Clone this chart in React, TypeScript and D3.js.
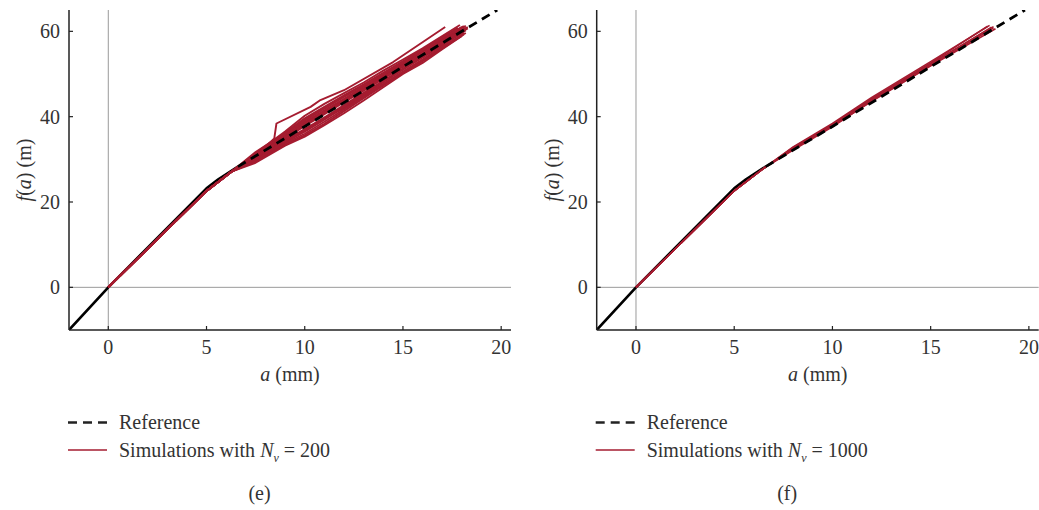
import React from "react";
import * as d3 from "d3";

type Pt = [number, number];

// ---------- data ----------
const xTicks = [0, 5, 10, 15, 20];
const yTicks = [0, 20, 40, 60];
const xDomain: [number, number] = [-2, 20.5];
const yDomain: [number, number] = [-10, 65];

// reference curve: solid (known) part and dashed continuation
const referenceSolid: Pt[] = [[-2, -10], [0, 0], [5, 23.2], [5.6, 25.3], [6.6, 28.3]];
const referenceDashed: Pt[] = [[6.6, 28.3], [10, 37.7], [15, 51.7], [19.8, 65]];

// simulations, N_v = 200 (panel e)
const simsE: Pt[][] = [
  [[0, 0], [5, 22.6], [6.3, 27.2], [7.5, 31.7], [9, 36.2], [10, 39.6], [11, 42.3], [12, 45.0], [13, 47.6], [14, 50.3], [15, 53.0], [16, 55.8], [17, 58.6], [17.8, 60.8]],
  [[0, 0], [5, 22.6], [6.3, 27.2], [7.5, 29.6], [9, 33.5], [10, 35.6], [11, 38.3], [12, 41.3], [13, 44.3], [14, 47.3], [15, 50.2], [16, 53.0], [17, 56.0], [18.0, 59.0]],
  [[0, 0], [5, 22.6], [6.3, 27.2], [7.5, 31.1], [9, 35.5], [10, 38.5], [11, 41.2], [12, 43.9], [13, 46.7], [14, 49.5], [15, 52.3], [16, 55.2], [17, 58.0], [18.2, 61.3]],
  [[0, 0], [5, 22.6], [6.3, 27.2], [7.5, 30.0], [9, 34.0], [10, 36.5], [11, 39.3], [12, 42.2], [13, 45.2], [14, 48.1], [15, 51.0], [16, 53.9], [17, 56.7], [18.1, 60.0]],
  [[0, 0], [5, 22.6], [6.3, 27.2], [7.5, 30.5], [9, 34.9], [10, 37.8], [11, 40.6], [12, 43.4], [13, 46.1], [14, 48.9], [15, 51.7], [16, 54.5], [17, 57.3], [18.3, 60.7]],
  [[0, 0], [5, 22.6], [6.3, 27.2], [7.5, 31.4], [9, 36.5], [10, 40.2], [11, 43.0], [12, 45.5], [13, 48.0], [14, 50.8], [15, 53.4], [16, 56.0], [17, 58.9], [17.9, 61.5]],
  [[0, 0], [5, 22.6], [6.3, 27.2], [7.5, 29.2], [9, 33.2], [10, 35.3], [11, 38.0], [12, 40.8], [13, 43.8], [14, 46.9], [15, 50.0], [16, 52.6], [17, 55.8], [18.0, 58.9]],
  [[0, 0], [5, 22.6], [6.3, 27.2], [7.5, 30.9], [9, 35.4], [10, 38.7], [11, 41.5], [12, 44.2], [13, 47.0], [14, 49.8], [15, 52.4], [16, 55.3], [17, 58.1], [18.2, 60.9]],
  [[0, 0], [5, 22.6], [6.3, 27.2], [7.5, 29.9], [9, 34.4], [10, 37.1], [11, 39.8], [12, 42.7], [13, 45.6], [14, 48.4], [15, 51.3], [16, 54.0], [17, 57.0], [18.1, 59.7]],
  [[0, 0], [5, 22.6], [6.3, 27.2], [7.5, 31.0], [9, 35.9], [10, 39.0], [11, 41.9], [12, 44.6], [13, 47.3], [14, 49.9], [15, 52.7], [16, 55.5], [17, 58.4], [18.0, 61.0]],
  [[0, 0], [5, 22.6], [6.3, 27.2], [7.5, 30.2], [9, 34.6], [10, 36.9], [11, 39.7], [12, 42.0], [13, 44.9], [14, 47.7], [15, 50.6], [16, 53.4], [17, 56.4], [18.2, 59.6]],
  [[0, 0], [5, 22.6], [6.3, 27.2], [7.5, 29.5], [9, 33.8], [10, 36.0], [11, 38.8], [12, 41.7], [13, 44.6], [14, 47.5], [15, 50.4], [16, 53.3], [17, 56.2], [18.1, 59.3]],
  [[0, 0], [5, 22.6], [6.3, 27.2], [7.5, 30.4], [9, 35.1], [10, 38.1], [11, 40.9], [12, 43.7], [13, 46.5], [14, 49.2], [15, 52.0], [16, 54.8], [17, 57.7], [18.0, 60.3]],
  [[0, 0], [5, 22.6], [6.3, 27.2], [7.5, 31.3], [9, 36.0], [10, 39.3], [11, 42.0], [12, 44.8], [13, 47.4], [14, 50.1], [15, 52.9], [16, 55.6], [17, 58.5], [18.1, 61.2]],
  [[0, 0], [5, 22.6], [6.3, 27.2], [7.5, 29.8], [9, 34.2], [10, 36.7], [11, 39.5], [12, 42.4], [13, 45.4], [14, 48.3], [15, 51.2], [16, 54.2], [17, 57.1], [18.2, 60.2]],
  [[0, 0], [5, 22.6], [6.3, 27.2], [7.5, 30.7], [9, 35.2], [10, 38.3], [11, 41.0], [12, 43.6], [13, 46.3], [14, 49.1], [15, 51.9], [16, 54.7], [17, 57.5], [18.3, 61.0]],
  [[0, 0], [5, 22.6], [6.3, 27.2], [7.5, 30.8], [8.45, 34.9], [8.56, 38.4], [10.3, 42.3], [10.8, 43.9], [12.0, 46.2], [14.5, 52.8], [17.15, 61.0]],
];

// simulations, N_v = 1000 (panel f)
const simsF: Pt[][] = [
  [[0, 0], [5, 22.6], [6.5, 27.9], [8, 32.5], [10, 38.0], [12, 43.9], [15, 52.3], [18.1, 61.0]],
  [[0, 0], [5, 22.6], [6.5, 27.9], [8, 32.8], [10, 38.2], [12, 44.2], [15, 52.6], [17.9, 61.2]],
  [[0, 0], [5, 22.6], [6.5, 27.9], [8, 32.2], [10, 37.6], [12, 43.7], [15, 52.0], [18.2, 60.8]],
  [[0, 0], [5, 22.6], [6.5, 27.9], [8, 32.9], [10, 38.4], [12, 44.5], [15, 52.9], [18.0, 61.4]],
  [[0, 0], [5, 22.6], [6.5, 27.9], [8, 32.4], [10, 37.8], [12, 43.6], [15, 51.9], [18.3, 60.6]],
  [[0, 0], [5, 22.6], [6.5, 27.9], [8, 32.6], [10, 38.1], [12, 44.0], [15, 52.4], [18.2, 61.1]],
];

const panels = [
  { id: "e", sims: simsE, nv: "200", caption: "(e)", simWidth: 1.9 },
  { id: "f", sims: simsF, nv: "1000", caption: "(f)", simWidth: 1.6 },
];

const RED = "#a51c30";
const FONT = "Liberation Serif, DejaVu Serif, serif";
const TEXT = "#333";

function Panel({ x0, sims, nv, caption, id, simWidth }: { x0: number; sims: Pt[][]; nv: string; caption: string; id: string; simWidth: number }) {
  const plotW = 442;
  const top = 10;
  const bottom = 330;
  const x = d3.scaleLinear().domain(xDomain).range([x0, x0 + plotW]);
  const y = d3.scaleLinear().domain(yDomain).range([bottom, top]);
  const line = d3.line<Pt>().x((d) => x(d[0])).y((d) => y(d[1]));
  const clipId = `clip-${id}`;
  const fs = 20;
  const legX = x0 - 1;
  const ts = { fontFamily: FONT, fontSize: fs, fill: TEXT } as React.CSSProperties;
  return (
    <g>
      <defs>
        <clipPath id={clipId}>
          <rect x={x0} y={top} width={plotW + 2} height={bottom - top} />
        </clipPath>
      </defs>
      {/* zero crosshair */}
      <line x1={x0} x2={x0 + plotW} y1={y(0)} y2={y(0)} stroke="#9a9a9a" strokeWidth={1} />
      <line x1={x(0)} x2={x(0)} y1={top} y2={bottom} stroke="#9a9a9a" strokeWidth={1} />
      <g clipPath={`url(#${clipId})`}>
        <path d={line(referenceSolid) || ""} fill="none" stroke="#000" strokeWidth={2.6} strokeLinejoin="round" />
        {sims.map((s, i) => (
          <path key={i} d={line(s) || ""} fill="none" stroke={RED} strokeWidth={simWidth} strokeLinejoin="round" />
        ))}
        <path d={line(referenceDashed) || ""} fill="none" stroke="#000" strokeWidth={2.8} strokeDasharray="9,6" />
      </g>
      {/* axes */}
      <line x1={x0} x2={x0 + plotW} y1={bottom} y2={bottom} stroke="#222" strokeWidth={1.5} />
      <line x1={x0} x2={x0} y1={top} y2={bottom} stroke="#222" strokeWidth={1.5} />
      {xTicks.map((t) => (
        <g key={`xt${t}`}>
          <line x1={x(t)} x2={x(t)} y1={bottom} y2={bottom - 4} stroke="#222" strokeWidth={1.2} />
          <text x={x(t)} y={354} textAnchor="middle" style={ts}>{t}</text>
        </g>
      ))}
      {yTicks.map((t) => (
        <g key={`yt${t}`}>
          <line x1={x0} x2={x0 + 4} y1={y(t)} y2={y(t)} stroke="#222" strokeWidth={1.2} />
          <text x={x0 - 9} y={y(t)} dy="0.35em" textAnchor="end" style={ts}>{t}</text>
        </g>
      ))}
      <text x={x0 + plotW / 2} y={381} textAnchor="middle" style={ts}>
        <tspan fontStyle="italic">a</tspan> (mm)
      </text>
      <text transform={`translate(${x0 - 38},170) rotate(-90)`} textAnchor="middle" style={ts}>
        <tspan fontStyle="italic">f</tspan>(<tspan fontStyle="italic">a</tspan>) (m)
      </text>
      {/* legend */}
      <line x1={legX} x2={legX + 39} y1={422.5} y2={422.5} stroke="#222" strokeWidth={2.6} strokeDasharray="9,6" />
      <text x={legX + 51} y={428.5} style={ts}>Reference</text>
      <line x1={legX} x2={legX + 39} y1={450} y2={450} stroke={RED} strokeWidth={1.4} />
      <text x={legX + 51} y={456.5} style={ts}>
        Simulations with <tspan fontStyle="italic">N</tspan>
        <tspan fontStyle="italic" fontSize={12} dy={5}>ν</tspan>
        <tspan dy={-5}> = {nv}</tspan>
      </text>
      <text x={x0 + 190.5} y={500} textAnchor="middle" style={ts}>{caption}</text>
    </g>
  );
}

export default function App() {
  const offsets = [69, 596.7];
  return (
    <svg width={1039} height={510} style={{ position: "absolute", left: 0, top: 0, background: "#fff" }}>
      <rect width={1039} height={510} fill="#fff" />
      {panels.map((p, i) => (
        <Panel key={p.id} id={p.id} x0={offsets[i]} sims={p.sims} nv={p.nv} caption={p.caption} simWidth={p.simWidth} />
      ))}
    </svg>
  );
}
